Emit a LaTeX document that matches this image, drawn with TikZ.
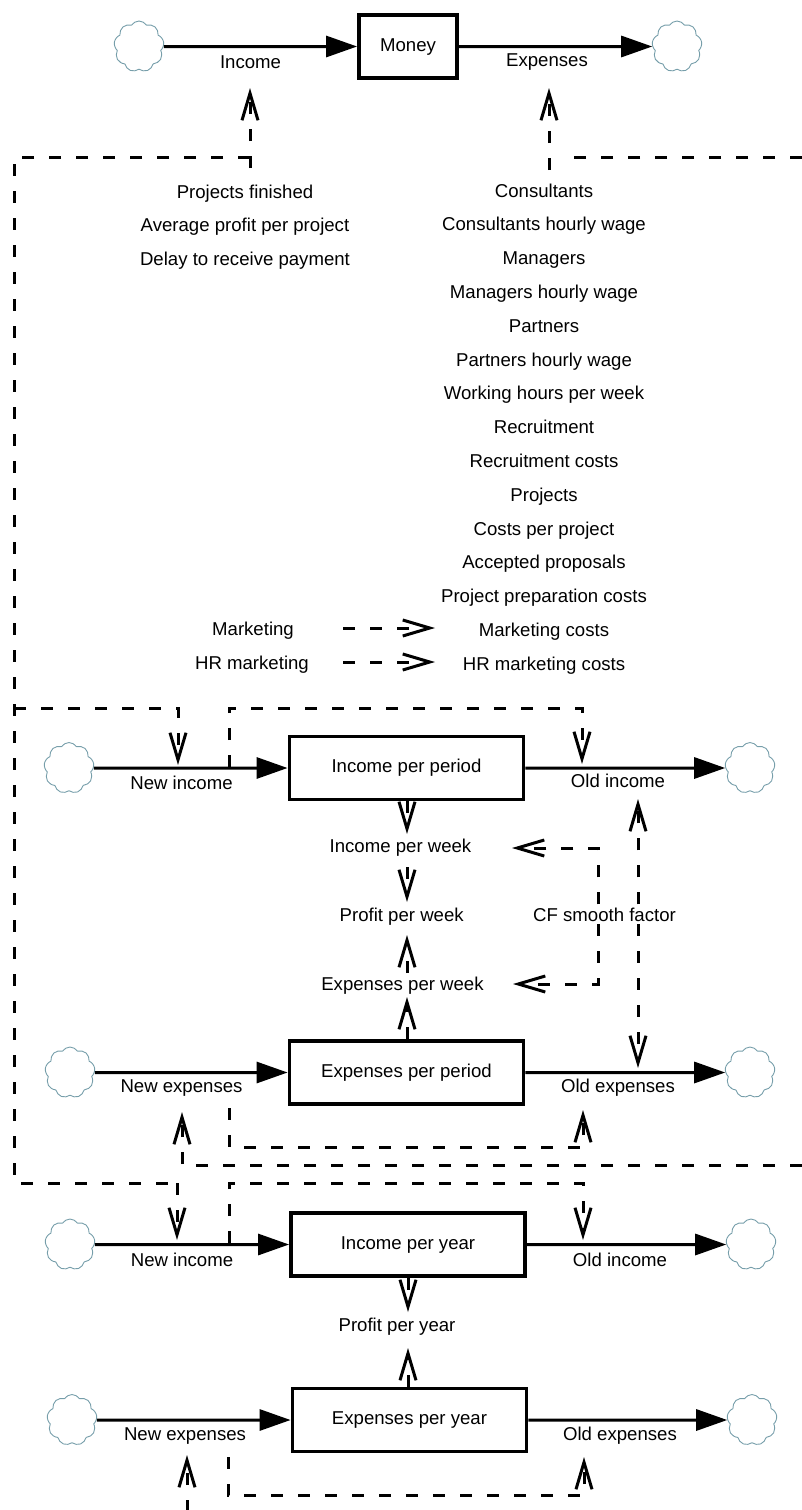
\documentclass[tikz,border=0pt]{standalone}
\usepackage{fontspec}
\setmainfont{Liberation Sans}
\usetikzlibrary{arrows.meta,shapes.symbols}
\definecolor{cloudline}{RGB}{118,158,170}

\begin{document}
\begin{tikzpicture}[x=1pt,y=-1pt,
  every node/.style={font=\fontsize{18.6pt}{22pt}\selectfont},
  txt/.style={anchor=base, inner sep=0pt},
  stock/.style={draw, line width=3.8pt, minimum width=234pt, minimum height=63pt,
                inner sep=0pt, text height=9.5pt, text depth=0pt},
  source/.style={cloud, cloud puffs=9, cloud puff arc=115, aspect=1, draw=cloudline,
                 line width=0.9pt, minimum width=50pt, minimum height=51pt, inner sep=0pt},
  flow/.style={line width=3pt, -{Triangle[length=31pt,width=21pt]}},
  dashedline/.style={line width=3pt, dash pattern=on 12pt off 15pt},
  link/.style={dashedline, -{Straight Barb[length=27pt,width=16pt,line width=3pt]}},
]
\useasboundingbox (0,0) rectangle (802,1510);

% ---------------- money stock and its flows
\node[stock, minimum width=98pt] (money) at (408,46.5) {Money};
\node[source] (src0) at (139,46.5) {};
\node[source] (snk0) at (677,46.5) {};
\draw[flow] (src0) -- (money);
\draw[flow] (money) -- (snk0);
\node[txt] (lInc) at (250.5,68) {Income};
\node[txt] (lExp) at (547,66.5) {Expenses};

% ---------------- auxiliaries
\node[txt] (l0) at (245,198) {Projects finished};
\node[txt] (l1) at (245,231.5) {Average profit per project};
\node[txt] (l2) at (245,265) {Delay to receive payment};
\foreach \t [count=\i from 0] in {Consultants,Consultants hourly wage,Managers,
    Managers hourly wage,Partners,Partners hourly wage,Working hours per week,
    Recruitment,Recruitment costs,Projects,Costs per project,Accepted proposals,
    Project preparation costs,Marketing costs,HR marketing costs}
  \node[txt] (r\i) at (544,197+\i*33.8) {\t};
\node[txt] (mk) at (253,635) {Marketing};
\node[txt] (hrmk) at (252,669) {HR marketing};
\coordinate (mkA) at (343,628);   \coordinate (mkB) at (435,628);
\coordinate (hrA) at (343,662);   \coordinate (hrB) at (435,662);
\draw[link] (mkA) -- (mkB);
\draw[link] (hrA) -- (hrB);

% links into the money flows
\coordinate (incTip) at (250,88);
\coordinate (expTip) at (549,88);
\draw[link] (250,168) -- (incTip);
\draw[link] (549,170) -- (expTip);
\draw[dashedline] (802,157) -- (562,157);

% ---------------- weekly section
\node[stock] (ipp) at (406.5,768) {Income per period};
\node[source] (src1) at (69,768) {};
\node[source] (snk1) at (750,768) {};
\draw[flow] (src1) -- (ipp);
\draw[flow] (ipp) -- (snk1);
\node[txt] (ni1) at (181.5,789) {New income};
\node[txt] (oi1) at (618,787) {Old income};

\node[stock] (epp) at (406.5,1072.5) {Expenses per period};
\node[source] (src2) at (70,1072.5) {};
\node[source] (snk2) at (750,1072.5) {};
\draw[flow] (src2) -- (epp);
\draw[flow] (epp) -- (snk2);
\node[txt] (ne2) at (181.5,1092) {New expenses};
\node[txt] (oe2) at (618,1092) {Old expenses};

\node[txt] (ipw) at (400.5,852) {Income per week};
\node[txt] (ppw) at (401.7,921) {Profit per week};
\node[txt] (epw) at (402.5,990) {Expenses per week};
\node[txt, inner sep=3pt] (cf) at (604.5,921) {CF smooth factor};

\draw[link] (ipp.south -| 407,0) -- (407,834);
\draw[link] (407,867) -- (407,902);
\draw[link] (407,973) -- (407,935);
\draw[link] (epp.north -| 407,0) -- (407,997);

\draw[link] (cf.north -| 598,0) -- (598,848) -- (512,848);
\draw[link] (cf.south -| 598,0) -- (598,984) -- (513,984);
\draw[link] (cf.north -| 638,0) -- (638,799);
\draw[link] (cf.south -| 638,0) -- (638,1068);

% outer loop from the top down to the income inflows
\draw[dashedline] (250,157) -- (14,157) -- (14,1183) -- (177,1183);
\draw[link] (14,708) -- (178,708) -- (178,765);
\draw[link] (229,767) -- (229,708) -- (582,708) -- (582,764);

\draw[link] (802,1165) -- (182,1165) -- (182,1112);
\draw[link] (229,1108) -- (229,1147) -- (583,1147) -- (583,1110);

% ---------------- yearly section
\node[stock] (ipy) at (408,1244.5) {Income per year};
\node[source] (src3) at (70,1244.5) {};
\node[source] (snk3) at (751,1244.5) {};
\draw[flow] (src3) -- (ipy);
\draw[flow] (ipy) -- (snk3);
\node[txt] (ni3) at (182,1266) {New income};
\node[txt] (oi3) at (620,1266) {Old income};

\node[stock] (epy) at (409.5,1420) {Expenses per year};
\node[source] (src4) at (72,1420) {};
\node[source] (snk4) at (752,1420) {};
\draw[flow] (src4) -- (epy);
\draw[flow] (epy) -- (snk4);
\node[txt] (ne4) at (185,1440) {New expenses};
\node[txt] (oe4) at (620,1440) {Old expenses};

\node[txt] (ppy) at (397,1331) {Profit per year};
\draw[link] (ipy.south -| 408,0) -- (408,1312);
\draw[link] (epy.north -| 408,0) -- (408,1348);

\draw[link] (177,1183) -- (177,1240);
\draw[link] (229,1243) -- (229,1183) -- (583,1183) -- (583,1240);
\draw[link] (187,1512) -- (187,1455);
\draw[link] (228,1457) -- (228,1495) -- (584,1495) -- (584,1457);
\end{tikzpicture}
\end{document}
